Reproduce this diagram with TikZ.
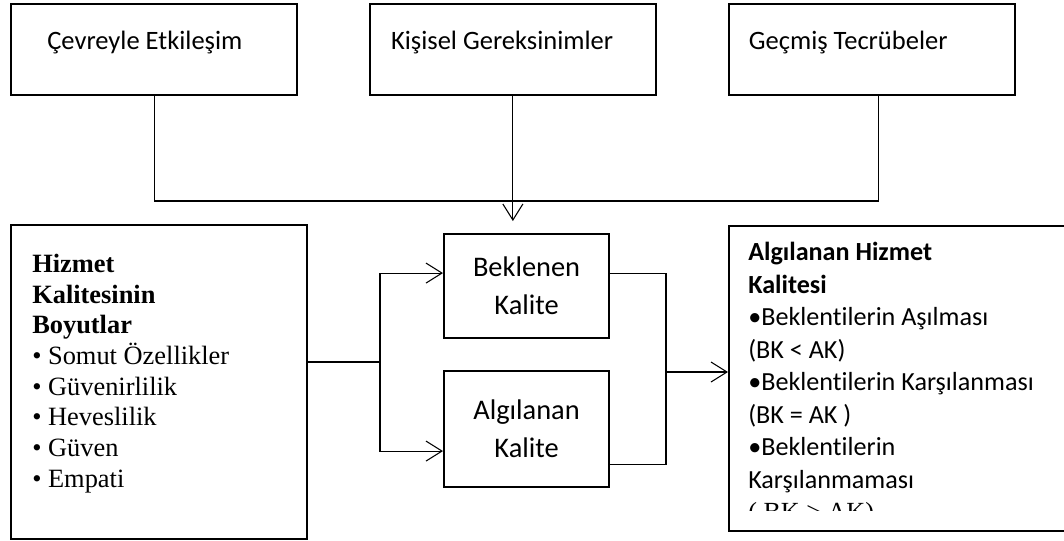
\documentclass[tikz,border=0pt]{standalone}
\usepackage{fontspec}
\setmainfont{Liberation Serif}
\newfontfamily\calibri[Ligatures=NoCommon]{Carlito}
\usetikzlibrary{arrows.meta, positioning, calc}

\begin{document}
\begin{tikzpicture}[x=0.75pt, y=-0.75pt, node distance=53pt,
  >={Straight Barb[length=12pt,width=15pt]},
  box/.style={draw, line width=1.6pt, inner sep=0pt},
  topbox/.style={box, minimum width=214.5pt, minimum height=68.25pt},
  toptxt/.style={anchor=base west, inner sep=0pt, font=\calibri\fontsize{19.9}{24}\selectfont},
  kalbox/.style={box, minimum width=123.75pt, align=center,
    font=\calibri\fontsize{21.3}{28.5}\selectfont},
  line/.style={line width=0.8pt}]
\useasboundingbox (0,0) rectangle (1064,540);
\clip (0,0) rectangle (1064,540);

% top row
\node[topbox, anchor=north west] (cevre) at (10,3) {};
\node[topbox, right=of cevre] (kisisel) {};
\node[topbox, right=of kisisel] (gecmis) {};
\node[toptxt] (cevretxt) at ([xshift=27.75pt]cevre.west) {Çevreyle Etkileşim};
\node[toptxt] (kisiseltxt) at ([xshift=16.5pt]kisisel.west) {Kişisel Gereksinimler};
\node[toptxt] (gecmistxt) at ([xshift=15.75pt]gecmis.west) {Geçmiş Tecrübeler};

% middle boxes
\node[kalbox, minimum height=78pt, anchor=north west] (beklenen) at (443,233) {Beklenen\\Kalite};
\node[kalbox, minimum height=87pt, anchor=north west] (algilanan) at (443,370) {Algılanan\\Kalite};

% left box
\node[box, anchor=north west, minimum width=222pt, minimum height=235.5pt] (boyut) at (10,224) {};
\node[anchor=north west, inner sep=0pt, align=left, font=\fontsize{19.8}{23}\selectfont] (boyuttxt) at (32,254)
  {\textbf{Hizmet}\\\textbf{Kalitesinin}\\\textbf{Boyutlar}\\• Somut Özellikler\\• Güvenirlilik\\• Heveslilik\\• Güven\\• Empati};

% right box
\node[box, anchor=north west, minimum width=279pt, minimum height=228.75pt] (hizmet) at (728,225) {};
\begin{scope}
\clip (728,225) rectangle (1064,510);
\node[anchor=north west, inner sep=0pt, align=left, font=\calibri\fontsize{19.6}{24.4}\selectfont] (hizmettxt) at (748,242)
  {\textbf{Algılanan Hizmet}\\\textbf{Kalitesi}\\•Beklentilerin Aşılması\\(BK < AK)\\•Beklentilerin Karşılanması\\(BK = AK )\\•Beklentilerin\\Karşılanmaması\\{\rmfamily ( BK > AK)}};
\end{scope}

% connectors
\draw[line] (cevre.south) -- (cevre.south |- 0,201) -- ([xshift=5.25pt]gecmis.south |- 0,201) -- ([xshift=5.25pt]gecmis.south);
\draw[line, ->, shorten >=9pt] (kisisel.south) -- (kisisel.south |- beklenen.north);
\coordinate (split) at (380,362);
\draw[line] (boyut.east |- split) -- (split);
\draw[line, ->] (split) |- ([yshift=9.75pt]beklenen.west);
\draw[line, ->] (split) |- ([yshift=-16.5pt]algilanan.west);
\coordinate (join) at (666,372);
\draw[line] ([yshift=9.75pt]beklenen.east) -| (join) |- ([yshift=-26.25pt]algilanan.east);
\draw[line, ->] (join) -- (hizmet.west |- join);
\end{tikzpicture}
\end{document}
